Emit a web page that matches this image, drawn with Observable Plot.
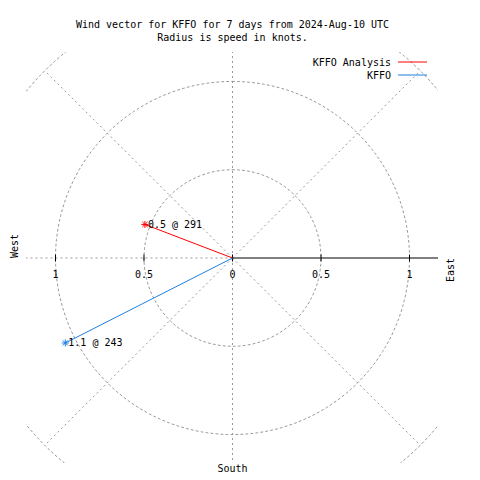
<!DOCTYPE html>
<html>
<head>
<meta charset="utf-8">
<script src="https://cdn.jsdelivr.net/npm/d3@7"></script>
<script src="https://cdn.jsdelivr.net/npm/@observablehq/plot@0.6"></script>
<style>
  html, body { margin: 0; padding: 0; background: #fff; }
</style>
</head>
<body>
<div id="chart"></div>
<script>
// ---- data ----
const titleLines = ["Wind vector for KFFO for 7 days from 2024-Aug-10 UTC", "Radius is speed in knots."];
const stations = ["KFFO Analysis", "KFFO"];
const speeds = [0.53, 1.06];          // knots
const directions = [291, 243];        // degrees
const colors = ["#ff0000", "#1f7fe0"];
const gridRadii = [0.5, 1, 1.5];
const spokeAngles = [0, 45, 135, 180, 225, 270, 315];
const axisAngle = 90;
const tickPositions = [-1, -0.5, 0, 0.5, 1];
const tickLabels = ["1", "0.5", "0", "0.5", "1"];
const rMax = 1.5;
const half = 1.1638;

// ---- derived ----
const rad = (a) => a * Math.PI / 180;
const polar = (r, a) => ({ x: r * Math.sin(rad(a)), y: r * Math.cos(rad(a)) });
const vectors = stations.map((s, i) => {
  const p = polar(speeds[i], directions[i]);
  return { station: s, x: p.x, y: p.y, color: colors[i],
           label: `${d3.format(".1f")(speeds[i])} @ ${directions[i]}` };
});
const circlePts = gridRadii.flatMap(r => d3.range(0, 361, 2).map(a => ({ r, ...polar(r, a) })));
const spokes = spokeAngles.map(a => ({ a, ...polar(rMax, a) }));
const axisEnd = polar(rMax, axisAngle);
const ticks = tickPositions.map((x, i) => ({ x, y: 0, label: tickLabels[i] }));

const gridStyle = { stroke: "#999999", strokeWidth: 1, strokeDasharray: "2,3", clip: true };
const FONT = "'DejaVu Sans Mono', 'Liberation Mono', monospace";

const vtick = { draw(ctx) { ctx.moveTo(0, -3.5); ctx.lineTo(0, 3.5); } };
const star = { draw(ctx) {
  const h = 3.5, d = 2.6;
  ctx.moveTo(-h, 0); ctx.lineTo(h, 0);
  ctx.moveTo(0, -h); ctx.lineTo(0, h);
  ctx.moveTo(-d, -d); ctx.lineTo(d, d);
  ctx.moveTo(-d, d); ctx.lineTo(d, -d);
} };

function legend(index, scales, values, dims) {
  const g = d3.create("svg:g").attr("font-family", FONT).attr("font-size", 10);
  const xEnd = dims.width - 53, x0 = xEnd - 29;
  stations.forEach((s, i) => {
    const y = dims.marginTop + 10 + 13 * i;
    g.append("text").attr("x", x0 - 7).attr("y", y).attr("dy", "0.35em")
      .attr("text-anchor", "end").attr("fill", "black").text(s);
    g.append("line").attr("x1", x0).attr("x2", xEnd).attr("y1", y).attr("y2", y)
      .attr("stroke", colors[i]).attr("stroke-width", 1);
  });
  return g.node();
}

const chart = Plot.plot({
  width: 480,
  height: 480,
  marginLeft: 26,
  marginRight: 42,
  marginTop: 52,
  marginBottom: 17,
  x: { domain: [-half, half], axis: null },
  y: { domain: [-half, half], axis: null },
  style: { fontFamily: FONT, fontSize: "10px", background: "white", color: "black", overflow: "visible" },
  marks: [
    // grid circles
    Plot.line(circlePts, { x: "x", y: "y", z: "r", ...gridStyle }),
    // radial spokes
    Plot.link(spokes, { x1: 0, y1: 0, x2: "x", y2: "y", ...gridStyle }),
    // east radial axis
    Plot.link([axisEnd], { x1: 0, y1: 0, x2: "x", y2: "y", stroke: "black", strokeWidth: 1, clip: true }),
    // ticks
    Plot.dot(ticks, { x: "x", y: "y", symbol: vtick, stroke: "black", strokeWidth: 1 }),
    // tick labels
    Plot.text(ticks, { x: "x", y: "y", text: "label", dy: 17, fill: "black" }),
    // vectors
    Plot.link(vectors, { x1: 0, y1: 0, x2: "x", y2: "y", stroke: "color", strokeWidth: 1 }),
    Plot.dot(vectors, { x: "x", y: "y", symbol: star, stroke: "color", strokeWidth: 1 }),
    Plot.text(vectors, { x: "x", y: "y", text: "label", textAnchor: "start", dx: 3, fill: "black" }),
    // compass labels
    Plot.text(["West"], { frameAnchor: "left", dx: -12, rotate: -90, fill: "black" }),
    Plot.text(["East"], { frameAnchor: "right", dx: 12, rotate: -90, fill: "black" }),
    Plot.text(["South"], { frameAnchor: "bottom", dy: 8, fill: "black" }),
    // title
    Plot.text([titleLines[0]], { frameAnchor: "top", dy: -32, fill: "black" }),
    Plot.text([titleLines[1]], { frameAnchor: "top", dy: -19, fill: "black" }),
    // legend
    legend
  ]
});
document.getElementById("chart").appendChild(chart);
</script>
</body>
</html>
